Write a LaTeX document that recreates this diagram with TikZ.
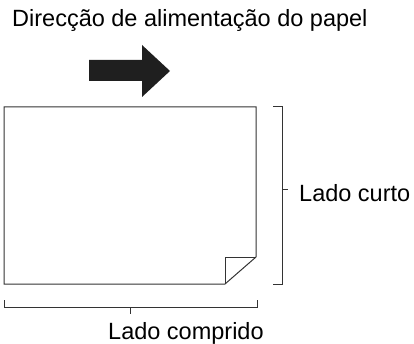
\documentclass[tikz,border=0pt]{standalone}
\usepackage{fontspec}
\setmainfont{Liberation Sans}
\usepackage{tikz}
\usetikzlibrary{positioning}
\tikzset{
    edge/.style={draw=black!80, line width=1pt, line cap=butt},
    label/.style={font=\fontsize{23.5}{28}\selectfont, inner sep=0pt, anchor=base west},
    feedarrow/.style={fill=black!88, draw=none},
}

\begin{document}
\begin{tikzpicture}[x=1pt, y=-1pt]
            \useasboundingbox (0,0) rectangle (414,344);
            % --- title and feed arrow ---
            \node[label] (title) at (12,27) {Direcção de alimentação do papel};
            \fill[feedarrow] (89,60) -- (142,60) -- (142,45) -- (170,71)
                -- (142,97) -- (142,81) -- (89,81) -- cycle;
            % --- sheet with folded corner ---
            \coordinate (tl) at (4,107);
            \coordinate (tr) at (256,107);
            \coordinate (fr) at (256,257);
            \coordinate (fb) at (225,284);
            \coordinate (bl) at (4,284);
            \coordinate (fc) at (225,257);
            \draw[edge] (fr) -- (tr) -- (tl) -- (bl) -- (fb) -- cycle;
            \draw[edge] (fb) -- (fc) -- (fr);
            % --- short side ---
            \node[label] (short) at (299,202) {Lado curto};
            \coordinate (s1) at (273,107);
            \coordinate (s2) at (282,107);
            \coordinate (s3) at (282,284);
            \coordinate (s4) at (273,284);
            \coordinate (sm) at (282,190);
            \draw[edge] (s1) -- (s2) -- (s3) -- (s4);
            \draw[edge] (sm) -- ++(6,0);
            % --- long side ---
            \node[label] (long) at (108,339) {Lado comprido};
            \coordinate (l1) at (4,300);
            \coordinate (l2) at (4,307);
            \coordinate (l3) at (257,307);
            \coordinate (l4) at (257,300);
            \coordinate (lm) at (130,307);
            \draw[edge] (l1) -- (l2) -- (l3) -- (l4);
            \draw[edge] (lm) -- ++(0,7);
        \end{tikzpicture}
\end{document}
